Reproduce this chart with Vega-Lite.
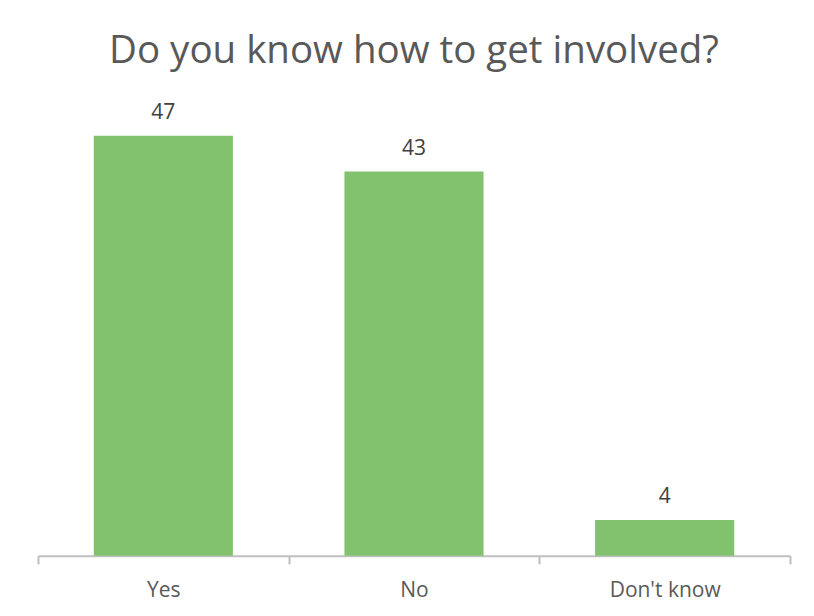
{
  "$schema": "https://vega.github.io/schema/vega-lite/v6.json",
  "autosize": "none",
  "width": 752,
  "height": 446.8,
  "padding": {"left": 38, "top": 109, "right": 24, "bottom": 60},
  "background": "white",
  "title": {
    "text": "Do you know how to get involved?",
    "fontSize": 38.5,
    "font": "Open Sans",
    "fontWeight": "normal",
    "color": "#595959",
    "anchor": "middle",
    "offset": 30
  },
  "data": {
    "values": [
      {"answer": "Yes", "count": 47},
      {"answer": "No", "count": 43},
      {"answer": "Don't know", "count": 4}
    ]
  },
  "config": {
    "view": {"stroke": null},
    "font": "Open Sans"
  },
  "encoding": {
    "x": {
      "field": "answer",
      "type": "nominal",
      "sort": null,
      "scale": {"paddingInner": 0, "paddingOuter": 0},
      "axis": {
        "title": null,
        "labelAngle": 0,
        "labelFont": "Open Sans",
        "labelFontSize": 21,
        "labelColor": "#595959",
        "labelPadding": 16,
        "domainColor": "#BFBFBF",
        "domainWidth": 2,
        "tickColor": "#BFBFBF",
        "tickWidth": 2,
        "tickSize": 8,
        "tickBand": "extent"
      }
    },
    "y": {
      "field": "count",
      "type": "quantitative",
      "scale": {"domain": [0, 50], "nice": false},
      "axis": null
    }
  },
  "layer": [
    {
      "mark": {"type": "bar", "color": "#82C26E", "width": {"band": 0.555}}
    },
    {
      "mark": {"type": "text", "baseline": "alphabetic", "dy": -17, "fontSize": 21, "font": "Open Sans", "color": "#404040"},
      "encoding": {"text": {"field": "count", "type": "quantitative"}}
    }
  ]
}
